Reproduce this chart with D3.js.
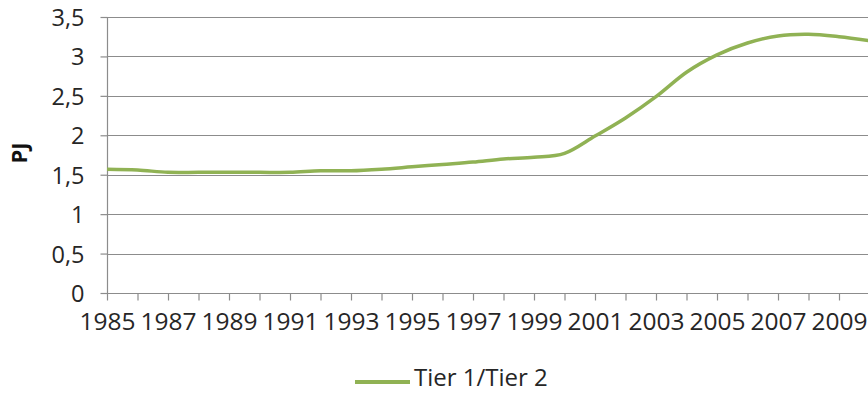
<!DOCTYPE html>
<html>
<head>
<meta charset="utf-8">
<script src="https://cdn.jsdelivr.net/npm/d3@7"></script>
<style>
  html, body { margin: 0; padding: 0; background: #fff; }
  svg { display: block; }
  text { font-family: "Open Sans", "Liberation Sans", sans-serif; }
</style>
</head>
<body>
<script>
// Annual energy values (PJ), Tier 1/Tier 2
const years = [1985, 1986, 1987, 1988, 1989, 1990, 1991, 1992, 1993, 1994, 1995, 1996, 1997,
               1998, 1999, 2000, 2001, 2002, 2003, 2004, 2005, 2006, 2007, 2008, 2009, 2010];
const tierValues = [1.57, 1.56, 1.53, 1.53, 1.53, 1.53, 1.53, 1.55, 1.55, 1.57, 1.60, 1.63, 1.66,
                    1.70, 1.72, 1.77, 1.99, 2.22, 2.49, 2.80, 3.02, 3.17, 3.26, 3.28, 3.25, 3.20];
const yTicks = [0, 0.5, 1, 1.5, 2, 2.5, 3, 3.5];
const xLabelYears = [1985, 1987, 1989, 1991, 1993, 1995, 1997, 1999, 2001, 2003, 2005, 2007, 2009];
const seriesName = "Tier 1/Tier 2";
const yTitle = "PJ";

const W = 868, H = 394;
const plotLeft = 107, plotTop = 17, plotBottom = 293;
const textColor = "#262626", gridColor = "#8c8c8c", lineColor = "#90b254";

const svg = d3.select("body").append("svg").attr("width", W).attr("height", H);

const x = d3.scaleLinear().domain([1985, 2010]).range([plotLeft, plotLeft + 25 * 30.5]);
const y = d3.scaleLinear().domain([0, 3.5]).range([plotBottom, plotTop]);

const fmt = v => String(v).replace(".", ",");

// Horizontal gridlines
svg.append("g").selectAll("line").data(yTicks.filter(d => d > 0)).join("line")
  .attr("x1", plotLeft).attr("x2", W)
  .attr("y1", d => Math.round(y(d)) + 0.5).attr("y2", d => Math.round(y(d)) + 0.5)
  .attr("stroke", gridColor).attr("stroke-width", 1.2);

// Y axis
const yAxis = svg.append("g").attr("transform", `translate(${plotLeft + 0.5},0)`)
  .call(d3.axisLeft(y).tickValues(yTicks).tickFormat(fmt).tickSize(7).tickPadding(16));
yAxis.select(".domain").attr("stroke", gridColor).attr("stroke-width", 1.2).attr("d", `M0,${plotTop}V${plotBottom}`);
yAxis.selectAll(".tick line").attr("stroke", gridColor).attr("stroke-width", 1.2);
yAxis.selectAll(".tick text").attr("fill", textColor).style("font-size", "23.5px")
  .style("font-family", "'Open Sans', sans-serif").attr("dy", "0.36em");

// X axis: a tick at every year, labels every other year
const xAxis = svg.append("g").attr("transform", `translate(0,${plotBottom + 0.5})`)
  .call(d3.axisBottom(x).tickValues(years).tickFormat(d => xLabelYears.includes(d) ? d : "")
    .tickSize(7).tickPadding(12));
xAxis.select(".domain").attr("stroke", gridColor).attr("stroke-width", 1.2).attr("d", `M${plotLeft},0H${W}`);
xAxis.selectAll(".tick line").attr("stroke", gridColor).attr("stroke-width", 1.2);
xAxis.selectAll(".tick text").attr("fill", textColor).style("font-size", "24.5px")
  .style("font-family", "'Open Sans', sans-serif");

// Y axis title
svg.append("text")
  .attr("transform", `translate(26.5,153) rotate(-90)`)
  .attr("text-anchor", "middle")
  .attr("fill", "#111").style("font-weight", "bold").style("font-size", "22px")
  .text(yTitle);

// Series line (smoothed)
const line = d3.line()
  .x((d, i) => x(years[i]))
  .y(d => y(d))
  .curve(d3.curveCardinal.tension(0));

svg.append("path")
  .datum(tierValues)
  .attr("d", line)
  .attr("fill", "none")
  .attr("stroke", lineColor)
  .attr("stroke-width", 3.5)
  .attr("stroke-linejoin", "round");

// Legend
const legend = svg.append("g");
legend.append("line")
  .attr("x1", 355).attr("x2", 410).attr("y1", 382).attr("y2", 382)
  .attr("stroke", lineColor).attr("stroke-width", 4);
legend.append("text")
  .attr("x", 414).attr("y", 386)
  .attr("fill", textColor).style("font-size", "24px")
  .text(seriesName);
</script>
</body>
</html>
